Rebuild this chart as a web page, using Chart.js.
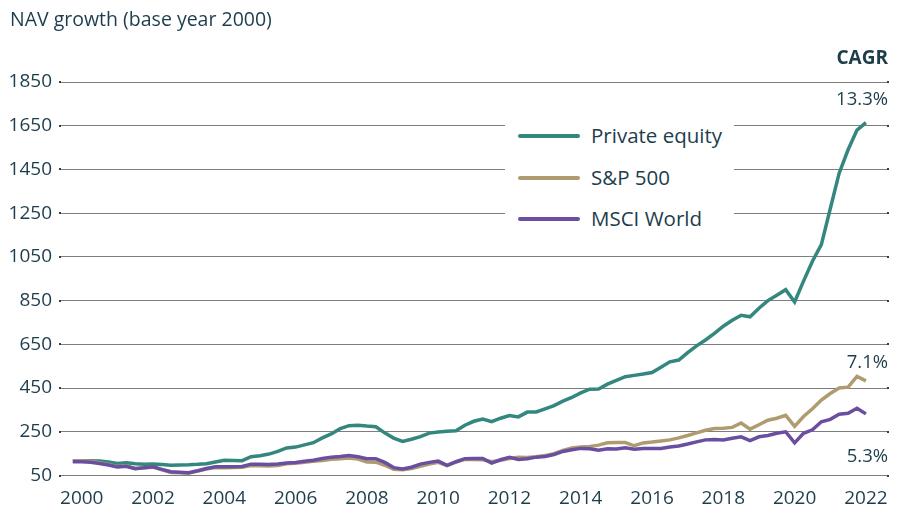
<!DOCTYPE html>
<html>
<head>
<meta charset="utf-8">
<script src="https://cdn.jsdelivr.net/npm/chart.js@4"></script>
<style>
  body { margin: 0; background: #fff; }
  #wrap { position: relative; width: 905px; height: 509px; font-family: "Open Sans", sans-serif; color: #1d3d4c; }
  #wrap canvas { position: absolute; left: 0; top: 0; }
  .txt { position: absolute; white-space: nowrap; font-size: 18.5px; line-height: 20px; }
  .right { text-align: right; }
  #legend { position: absolute; left: 505px; top: 117px; width: 229px; height: 120px; background: #fff; }
  .item { position: absolute; left: 13px; height: 24px; font-size: 20.5px; line-height: 24px; }
  .item span.swatch { position: absolute; left: 0; top: 10px; width: 62px; height: 4px; border-radius: 2px; }
  .item span.lab { position: absolute; left: 73px; top: -1px; white-space: nowrap; }
</style>
</head>
<body>
<div id="wrap">
  <canvas id="chart" width="905" height="509"></canvas>
  <div class="txt" style="left:10px; top:9px; font-size:19.5px;">NAV growth (base year 2000)</div>
  <div class="txt right" style="right:17px; top:47px; font-weight:bold; font-size:19px;">CAGR</div>
  <div class="txt right" style="right:17px; top:88px;">13.3%</div>
  <div class="txt right" style="right:17px; top:351px;">7.1%</div>
  <div class="txt right" style="right:17px; top:445px;">5.3%</div>
  <div id="legend"></div>
</div>
<script>
// quarterly points, end of 1999 through early 2022
const quarters = [];
for (let i = 0; i < 90; i++) quarters.push(1999.75 + i * 0.25);

const yearTicks = [2000, 2002, 2004, 2006, 2008, 2010, 2012, 2014, 2016, 2018, 2020, 2022];

const privateEquity = [
    116, 117, 118, 116, 112, 105, 108, 104, 101, 103,
    100, 97, 98, 99, 101, 104, 112, 120, 119, 118,
    136, 140, 148, 160, 176, 180, 190, 200, 222, 240,
    264, 278, 280, 276, 273, 245, 221, 206, 216, 228,
    244, 249, 252, 255, 280, 298, 308, 296, 312, 324,
    318, 340, 341, 355, 370, 390, 407, 428, 445, 446,
    468, 485, 502, 508, 514, 521, 545, 570, 578, 612,
    643, 670, 700, 733, 760, 783, 776, 815, 850, 875,
    900, 844, 939, 1030, 1106, 1270, 1433, 1540, 1630, 1664
];

const sp500 = [
    116, 117, 115, 108, 100, 91, 93, 82, 86, 88,
    76, 64, 62, 60, 70, 80, 86, 86, 87, 88,
    96, 95, 93, 96, 104, 106, 110, 115, 119, 124,
    127, 130, 125, 112, 111, 97, 78, 76, 82, 92,
    102, 110, 95, 111, 124, 123, 122, 113, 120, 128,
    133, 132, 136, 141, 150, 165, 176, 180, 183, 189,
    200, 201, 201, 186, 199, 203, 208, 213, 222, 233,
    245, 257, 265, 266, 270, 290, 262, 282, 303, 312,
    325, 275, 320, 355, 395, 425, 450, 454, 503, 483
];

const msciWorld = [
    113, 113, 111, 105, 98, 89, 92, 81, 85, 90,
    78, 67, 65, 63, 72, 82, 90, 90, 90, 91,
    102, 102, 100, 103, 107, 110, 115, 120, 128, 134,
    137, 141, 136, 127, 127, 110, 86, 80, 88, 102,
    110, 116, 96, 113, 127, 128, 128, 107, 122, 133,
    123, 127, 134, 137, 146, 160, 168, 174, 172, 166,
    172, 171, 177, 170, 174, 174, 174, 180, 185, 194,
    204, 213, 215, 212, 220, 227, 210, 227, 233, 243,
    250, 199, 243, 259, 296, 307, 330, 335, 358, 332
];

const seriesNames = ['Private equity', 'S&P 500', 'MSCI World'];
const seriesColors = ['#33877e', '#b09b70', '#6a4fa0'];
const seriesValues = [privateEquity, sp500, msciWorld];

const textColor = '#1d3d4c';
const fontFamily = '"Open Sans", sans-serif';

// html legend, sits on top of the grid with a white box
const legendEl = document.getElementById('legend');
seriesNames.forEach((name, i) => {
    const item = document.createElement('div');
    item.className = 'item';
    item.style.top = (7 + i * 41.5) + 'px';
    item.innerHTML = '<span class="swatch" style="background:' + seriesColors[i] + '"></span>' +
        '<span class="lab"></span>';
    item.querySelector('.lab').textContent = name;
    legendEl.appendChild(item);
});

const datasets = seriesNames.map((name, i) => ({
    label: name,
    data: quarters.map((q, j) => ({ x: q, y: seriesValues[i][j] })),
    borderColor: seriesColors[i],
    backgroundColor: seriesColors[i],
    borderWidth: 3.5,
    pointRadius: 0,
    tension: 0,
    fill: false,
}));

// msci first so it is painted over the s&p line
datasets.reverse();

// little dots at both ends of each grid line
const gridDots = {
    id: 'gridDots',
    afterDraw(chart) {
        const { ctx, chartArea, scales } = chart;
        ctx.save();
        ctx.fillStyle = '#3a3a3a';
        scales.y.ticks.forEach((t) => {
            const y = Math.round(scales.y.getPixelForValue(t.value));
            ctx.fillRect(chartArea.left - 1, y - 1, 2, 2);
            ctx.fillRect(chartArea.right - 1, y - 1, 2, 2);
        });
        ctx.restore();
    },
};

new Chart(document.getElementById('chart'), {
    type: 'line',
    data: { datasets: datasets },
    plugins: [gridDots],
    options: {
        responsive: false,
        animation: false,
        layout: { padding: { top: 82, right: 17, left: 0, bottom: 0 } },
        plugins: {
            legend: { display: false },
            tooltip: { enabled: false },
        },
        scales: {
            x: {
                type: 'linear',
                min: 1999.39,
                max: 2022.62,
                afterBuildTicks: (axis) => {
                    axis.ticks = yearTicks.map((v) => ({ value: v }));
                },
                afterFit: (axis) => { axis.height = 33.5; },
                grid: { display: false, drawTicks: false },
                border: { display: false },
                ticks: {
                    padding: 12,
                    autoSkip: false,
                    maxRotation: 0,
                    color: textColor,
                    font: { family: fontFamily, size: 19 },
                    callback: (v) => String(v),
                },
            },
            y: {
                min: 50,
                max: 1850,
                afterFit: (axis) => { axis.width = 60; },
                grid: { color: '#7d7d7d', lineWidth: 1, drawTicks: false },
                border: { display: false },
                ticks: {
                    stepSize: 200,
                    padding: 8,
                    color: textColor,
                    font: { family: fontFamily, size: 19 },
                    callback: (v) => String(v),
                },
            },
        },
    },
});
</script>
</body>
</html>
